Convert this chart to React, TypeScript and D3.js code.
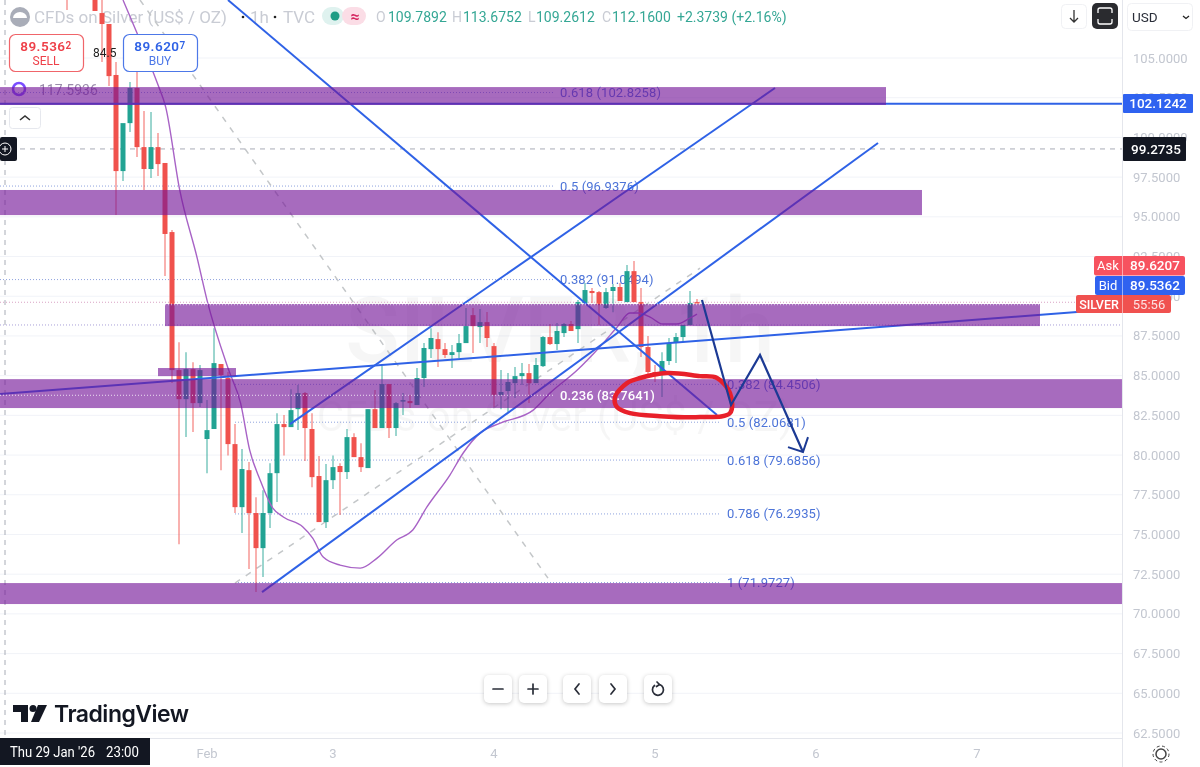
import React from "react";
import * as d3 from "d3";

const W = 1200, H = 767;
const barStart = -4;
const opens = [111,112,112,111,110,107.83,107.14,103.93,97.88,100.90,103.11,99.39,98.01,99.39,98.39,94.04,85.35,83.52,85.41,83.27,81.01,81.64,85.73,84.85,80.69,76.72,79.05,76.35,74.14,76.35,78.86,81.95,81.76,82.89,83.90,81.64,78.68,75.78,78.42,79.31,78.93,81.13,79.87,79.18,82.89,81.70,84.47,81.70,83.40,83.40,83.15,84.85,86.67,87.30,86.67,86.30,86.48,87.05,88.81,88.06,88.37,86.86,83.78,84.03,84.53,84.97,85.16,84.53,85.60,87.43,86.99,87.68,88.25,87.93,89.57,90.33,90.26,89.26,90.33,90.58,89.63,91.58,89.63,86.80,85.23,85.04,85.92,87.11,87.43,88.19,89.63];
const highs = [112,113,113,112,110,110,107.14,104.75,97.88,103.49,104.12,101.66,101.60,100.28,98.39,94.17,87.11,86.48,85.85,85.67,83.46,87.99,85.73,85.23,81.95,80.38,79.56,77.35,77.79,79.49,82.64,82.52,84.15,84.41,83.97,82.64,79.94,79.43,79.98,79.49,81.64,81.38,80.75,82.89,84.09,85.60,84.47,83.34,83.90,83.78,85.48,87.05,87.99,87.74,87.05,86.93,87.62,89.26,89.26,89.19,89.00,87.05,85.35,85.16,85.54,85.79,85.73,86.11,87.49,88.25,88.31,88.31,88.44,89.76,90.83,90.52,90.33,90.52,90.77,90.83,91.96,92.22,90.52,87.49,85.67,86.48,87.37,87.68,88.19,90.33,89.82];
const lows = [108.02,111,111,110,107.96,104.75,103.23,95.11,97.25,100.34,98.76,96.69,97.44,97.57,91.27,84.53,74.39,81.13,81.45,83.02,78.86,81.64,79.05,79.98,76.35,75.09,72.82,71.37,72.32,75.40,77.04,79.98,81.76,81.57,79.62,77.98,75.78,75.40,77.86,76.22,78.49,79.87,78.93,79.18,81.70,81.70,81.07,81.20,82.52,82.96,83.15,84.28,86.11,85.54,86.11,85.48,86.11,87.05,86.42,87.05,86.80,83.02,82.89,82.71,83.59,84.41,83.27,84.53,85.54,86.93,86.61,87.43,87.81,87.05,89.57,89.57,88.19,89.19,88.99,89.70,89.63,89.63,86.17,84.97,84.60,83.65,85.67,85.79,87.11,88.19,89.57];
const closes = [110,111,111,110,107.96,107.14,103.86,97.88,100.90,103.11,99.39,98.01,99.39,98.32,93.92,85.35,83.52,85.41,83.27,85.35,81.57,85.79,85.04,80.69,76.72,79.12,76.35,74.14,76.35,78.86,81.95,81.76,82.83,83.90,81.70,78.61,75.78,78.42,79.24,78.93,81.13,79.87,79.24,82.89,81.70,84.47,81.70,83.27,83.46,83.27,84.85,86.74,87.37,86.67,86.30,86.48,87.05,88.12,88.12,88.37,87.37,83.78,83.97,84.60,84.97,85.16,84.53,85.67,87.43,86.99,87.81,88.25,87.81,89.63,90.39,90.20,89.44,90.26,90.58,89.70,91.58,89.63,86.80,85.23,84.97,85.92,87.05,87.43,88.19,89.57,89.57];

const maBars = [4,6,8.9,10.1,12.1,14.6,16,19.1,20.8,22.1,23.6,25.4,26.9,29.7,31.1,32.6,35,37.9,40.3,43.1,45.4,47.4,50.7,52.6,55,57.9,62.6,65,68.9,72.1,74.6,76.4,77.6,79.3,81.1,83.1,85,86];
const maVals = [108.65,106.57,103.42,101.91,96.69,92.4,89.76,85.35,83.27,80.31,78.42,76.66,76.1,75.47,74.77,73.58,73.07,72.88,73.51,74.65,75.28,76.72,78.74,80.13,81.38,82.01,82.83,83.9,85.35,86.8,88.06,88.94,88.94,88.69,88.25,88.25,88.63,88.88];

const priceTicks = [105,102.5,100,97.5,95,92.5,90,87.5,85,82.5,80,77.5,75,72.5,70,67.5,65,62.5];
const dayLabels = ["Feb","3","4","5","6","7"];
const dayBars = [16,34,57,80,103,126];

const leftEdge = -13.57, paneEnd = 146.71;
const bandFrom = [leftEdge,leftEdge,10,9,leftEdge,leftEdge];
const bandTo = [113,118.14,135,20.14,paneEnd,paneEnd];
const bandTop = [103.17,96.69,89.51,85.48,84.78,71.94];
const bandBottom = [102.04,95.11,88.12,84.97,82.96,70.62];

const fibLeftText = ["0.618 (102.8258)","0.5 (96.9376)","0.382 (91.0494)"];
const fibLeftPrice = [102.8258,96.9376,91.0494];
const fibRightText = ["0.382 (84.4506)","0.5 (82.0681)","0.618 (79.6856)","0.786 (76.2935)","1 (71.9727)"];
const fibRightPrice = [84.4506,82.0681,79.6856,76.2935,71.9727];

const trendLines: number[][] = [
  [19,108.65,88.86,82.52],
  [27.86,81.95,97.14,103.11],
  [23.86,71.37,111.86,99.65],
  [-13.57,83.84,142.14,89.07],
  [-13.57,102.1242,paneEnd,102.1242],
];
const dashedLines: number[][] = [
  [6.43,108.65,64.71,72.25],
  [20,71.94,86.43,91.77],
];
const arrowBars = [86.71,90.86,95,101.14];
const arrowVals = [89.76,83.15,86.3,80.19];
const headBars = [99,101.14,101.86];
const headVals = [80.5,80.19,81.13];
const loopBars = [81.71,86.43,88.86,90.71,90.71,86.43,80.71,76.43,74.57,74.29,76,77.86];
const loopVals = [85.16,84.97,84.85,83.9,82.64,82.39,82.45,82.64,83.02,83.65,84.53,84.85];

const x = d3.scaleLinear().domain([0, 100]).range([95, 795]);
const y = d3.scaleLinear().domain([105, 62.5]).range([58, 733]);
const FONT = "Roboto, 'Noto Sans', sans-serif";
const GREEN = "#22a393", RED = "#f0524d", BLUE = "#2f62e6";
const BAND = "rgba(118,24,153,0.64)";
const TEAL = "#35a795", FADED = "#c9ccd4";

const btn = (cx: number, cy: number, key: string, glyph: React.ReactNode) => (
  <g key={key}>
    <rect x={cx-14} y={cy-14} width={28} height={28} rx={5} fill="#fff" style={{filter:"drop-shadow(0 1px 2px rgba(0,0,0,0.22))"}} />
    <g transform={`translate(${cx},${cy})`} fill="none" stroke="#2a2e39" strokeWidth={1.7} strokeLinecap="round">{glyph}</g>
  </g>
);

export default function App() {
  const lineGen = d3.line<[number,number]>().x(d => x(d[0])).y(d => y(d[1]));
  const ma = d3.line<number>().x((_, i) => x(maBars[i])).y(d => y(d)).curve(d3.curveMonotoneX)(maVals) ?? "";
  const loop = d3.line<number>().x((_, i) => x(loopBars[i])).y(d => y(d)).curve(d3.curveCatmullRomClosed)(loopVals) ?? "";
  const arrow = lineGen(arrowBars.map((b,i) => [b, arrowVals[i]] as [number,number])) ?? "";
  const head = lineGen(headBars.map((b,i) => [b, headVals[i]] as [number,number])) ?? "";
  const paneR = x(paneEnd);
  return (
    <svg width={W} height={H} viewBox={`0 0 ${W} ${H}`} style={{position:"fixed",left:0,top:0,background:"#fff",filter:"blur(0.4px)"}} fontFamily={FONT}>
      <rect width={W} height={H} fill="#fff" />
      {/* grid */}
      {priceTicks.map(p => <line key={p} x1={0} x2={paneR} y1={y(p)} y2={y(p)} stroke="#f1f3f8" strokeWidth={1} />)}
      {/* watermark */}
      <text x={560} y={362} textAnchor="middle" fontSize={90} fontWeight={500} fill="#000" fillOpacity={0.035}>SILVER, 1h</text>
      <text x={555} y={431} textAnchor="middle" fontSize={42} fill="#000" fillOpacity={0.035}>CFDs on Silver (US$ / OZ)</text>

      {/* header */}
      <circle cx={20} cy={17} r={10} fill="#a9adb8" />
      <path d="M13 18 a7 6 0 0 1 14 0 z" fill="#fff" />
      <text x={34} y={23} fontSize={17} fill={FADED}>CFDs on Silver (US$ / OZ)</text>
      <circle cx={243} cy={17} r={1.3} fill="#222" />
      <text x={250} y={23} fontSize={17} fill={FADED}>1h</text>
      <circle cx={275} cy={17} r={1.3} fill="#222" />
      <text x={283} y={23} fontSize={17} fill={FADED}>TVC</text>
      <rect x={322} y={7} width={22} height={18} rx={9} fill="#dff2ef" />
      <rect x={342} y={7} width={24} height={18} rx={9} fill="#fbdde6" />
      <circle cx={335} cy={16} r={4.5} fill="#1f9d85" />
      <text x={355} y={22} textAnchor="middle" fontSize={16} fontWeight={700} fill="#d4245f">≈</text>
      <text x={376} y={21.5} fontSize={14} fill={FADED}>O</text>
      <text x={388} y={21.5} fontSize={14} fill={TEAL}>109.7892</text>
      <text x={452} y={21.5} fontSize={14} fill={FADED}>H</text>
      <text x={463} y={21.5} fontSize={14} fill={TEAL}>113.6752</text>
      <text x={528} y={21.5} fontSize={14} fill={FADED}>L</text>
      <text x={536} y={21.5} fontSize={14} fill={TEAL}>109.2612</text>
      <text x={602} y={21.5} fontSize={14} fill={FADED}>C</text>
      <text x={612} y={21.5} fontSize={14} fill={TEAL}>112.1600</text>
      <text x={677} y={21.5} fontSize={14} fill={TEAL}>+2.3739 (+2.16%)</text>
      <circle cx={19} cy={89} r={6} fill="none" stroke="#7a4dff" strokeWidth={2.5} />
      <text x={39} y={95} fontSize={14} fill="#9a8cab">117.5936</text>

      {/* fib lines and labels, below the zones */}
      {fibLeftPrice.map(p => <line key={p} x1={x(leftEdge)} x2={x(65.7)} y1={y(p)} y2={y(p)} stroke="#8fa3de" strokeDasharray="1 2" />)}
      {fibRightPrice.map(p => <line key={p} x1={x(20)} x2={x(89.4)} y1={y(p)} y2={y(p)} stroke="#8fa3de" strokeDasharray="1 2" />)}
      <line x1={x(leftEdge)} x2={paneR} y1={y(89.6207)} y2={y(89.6207)} stroke="#d9a3c4" strokeDasharray="1 2" />
      <line x1={x(leftEdge)} x2={paneR} y1={y(88.19)} y2={y(88.19)} stroke="#a99fd8" strokeDasharray="1 2" />
      {fibLeftPrice.map((p,i) => <text key={p} x={x(66.43)} y={y(p)+4.5} fontSize={13} letterSpacing={0.1} fill="#4d74d8">{fibLeftText[i]}</text>)}
      {fibRightPrice.map((p,i) => <text key={p} x={x(90.29)} y={y(p)+4.5} fontSize={13} letterSpacing={0.1} fill="#4d74d8">{fibRightText[i]}</text>)}

      {/* dashed trend lines */}
      {dashedLines.map((l,i) => <line key={i} x1={x(l[0])} y1={y(l[1])} x2={x(l[2])} y2={y(l[3])} stroke="#c4c7c9" strokeWidth={1.5} strokeDasharray="6 7" />)}

      {/* crosshair */}
      <line x1={5} x2={5} y1={0} y2={738} stroke="#a8acb6" strokeDasharray="5 5" />
      <line x1={0} x2={paneR} y1={y(99.2735)} y2={y(99.2735)} stroke="#a8acb6" strokeDasharray="5 5" />

      {/* candles */}
      {opens.map((o,i) => {
        const cx = Math.round(x(i + barStart)) ;
        const c = closes[i]; const up = c >= o; const col = up ? GREEN : RED;
        const top = y(Math.max(o,c)), bot = y(Math.min(o,c));
        return (
          <g key={i}>
            <line x1={cx} x2={cx} y1={y(highs[i])} y2={y(lows[i])} stroke={col} strokeOpacity={0.75} strokeWidth={1.2} />
            <rect x={cx-2.5} y={top} width={5} height={Math.max(bot-top,1.5)} fill={col} />
          </g>
        );
      })}

      {/* moving average */}
      <path d={ma} fill="none" stroke="#a863c6" strokeWidth={1.4} />

      {/* trend lines */}
      {trendLines.map((l,i) => <line key={i} x1={x(l[0])} y1={y(l[1])} x2={x(l[2])} y2={y(l[3])} stroke={BLUE} strokeWidth={2} />)}

      {/* zones */}
      {bandTop.map((t,i) => <rect key={i} x={x(bandFrom[i])} y={y(t)} width={x(bandTo[i])-x(bandFrom[i])} height={y(bandBottom[i])-y(t)} fill={BAND} />)}
      <line x1={0} x2={x(65.7)} y1={y(83.7641)} y2={y(83.7641)} stroke="#fff" strokeOpacity={0.8} strokeDasharray="1 2" />
      <line x1={x(10)} x2={x(135)} y1={y(89.5)} y2={y(89.5)} stroke="#fff" strokeOpacity={0.55} strokeDasharray="1 2" strokeWidth={2} />
      <text x={x(66.43)} y={y(83.7641)+4.5} fontSize={13} letterSpacing={0.1} fill="#fff" fontWeight={500}>0.236 (83.7641)</text>

      {/* hand drawing */}
      <path d={loop} fill="none" stroke="#e8202a" strokeWidth={4.5} />
      <path d={arrow} fill="none" stroke="#1c3a94" strokeWidth={2.2} />
      <path d={head} fill="none" stroke="#1c3a94" strokeWidth={2} />

      {/* order boxes */}
      <rect x={9.5} y={34.5} width={74} height={37} rx={6} fill="#fff" stroke="#f0656a" strokeWidth={1.2} />
      <text x={46} y={51} textAnchor="middle" fontSize={13.5} fontWeight={600} fill="#ee4049" letterSpacing={0.5}>89.536<tspan fontSize={10} dy={-2}>2</tspan></text>
      <text x={46} y={65} textAnchor="middle" fontSize={12} fill="#ee4049">SELL</text>
      <text x={93} y={57} fontSize={12} fill="#222">84.5</text>
      <rect x={123.5} y={34.5} width={74} height={37} rx={6} fill="#fff" stroke="#4d78e8" strokeWidth={1.2} />
      <text x={160} y={51} textAnchor="middle" fontSize={13.5} fontWeight={600} fill="#2f62e6" letterSpacing={0.5}>89.620<tspan fontSize={10} dy={-2}>7</tspan></text>
      <text x={160} y={65} textAnchor="middle" fontSize={12} fill="#4d78e8">BUY</text>
      <rect x={9.5} y={107.5} width={31} height={21} rx={3} fill="#fff" stroke="#e6e8ee" />
      <path d="M20 120 l5 -4 l5 4" fill="none" stroke="#333" strokeWidth={1.6} />
      <rect x={0} y={137} width={17} height={24} rx={2} fill="#131722" />
      <circle cx={5} cy={149} r={6} fill="none" stroke="#fff" strokeWidth={1} />
      <path d="M2 149 h6 M5 146 v6" stroke="#fff" strokeWidth={1} />

      {/* zoom controls */}
      {btn(498,689,"minus",<path d="M-5 0 h10" />)}
      {btn(533,689,"plus",<path d="M-5 0 h10 M0 -5 v10" />)}
      {btn(577,689,"left",<path d="M2 -5 l-4 5 l4 5" />)}
      {btn(613,689,"right",<path d="M-2 -5 l4 5 l-4 5" />)}
      {btn(658,689,"reset",<><path d="M-3.5 -3.5 a5.5 5.5 0 1 0 5 -1" /><path d="M-1 -7 l2.5 2.5 l-3 2" /></>)}

      {/* logo */}
      <path d="M13 705 h15 v17 h-7 v-10 h-8 z" fill="#131722" />
      <circle cx={33} cy={708.5} r={3.5} fill="#131722" />
      <path d="M38 705 h9 l-8 17 h-8 z" fill="#131722" />
      <text x={54} y={722} fontSize={23} fontFamily="Inter, Roboto, sans-serif" fontWeight={600} letterSpacing={-0.5} fill="#131722">TradingView</text>

      {/* price axis */}
      <rect x={1122} y={0} width={78} height={H} fill="#fff" />
      <line x1={1122.5} x2={1122.5} y1={0} y2={H} stroke="#e4e6ec" />
      {priceTicks.map(p => <text key={p} x={1133} y={y(p)+4.5} fontSize={13} fill="#c3c7d0">{p.toFixed(4)}</text>)}

      <rect x={1123} y={94} width={70} height={19} fill="#2f62f0" rx={1} />
      <text x={1158} y={108} textAnchor="middle" fontSize={13.5} fontWeight={500} fill="#fff">102.1242</text>
      <rect x={1123} y={137} width={63} height={24} fill="#131722" rx={1} />
      <text x={1156} y={154} textAnchor="middle" fontSize={13.5} fontWeight={500} fill="#fff">99.2735</text>

      <rect x={1094} y={256} width={91} height={19.5} fill="#f7525f" rx={2} />
      <text x={1108} y={270} textAnchor="middle" fontSize={13} fill="#fff">Ask</text>
      <text x={1155} y={270} textAnchor="middle" fontSize={13.5} fontWeight={500} fill="#fff">89.6207</text>
      <rect x={1095} y={276} width={90} height={19} fill="#2f62f0" rx={2} />
      <text x={1108} y={290} textAnchor="middle" fontSize={13} fill="#fff">Bid</text>
      <text x={1155} y={290} textAnchor="middle" fontSize={13.5} fontWeight={500} fill="#fff">89.5362</text>
      <rect x={1076} y={295} width={95} height={18} fill="#f0514f" rx={2} />
      <text x={1099} y={308.5} textAnchor="middle" fontSize={12.5} fontWeight={500} fill="#fff">SILVER</text>
      <text x={1149} y={308.5} textAnchor="middle" fontSize={13} fill="#fde3e3">55:56</text>
      <line x1={1122.5} x2={1122.5} y1={256} y2={313} stroke="#fff" strokeOpacity={0.5} />

      {/* top-right buttons */}
      <rect x={1061.5} y={4.5} width={25} height={24} rx={4} fill="#fff" stroke="#f0f1f4" />
      <path d="M1074 10 v12 M1070 18 l4 4 l4 -4" fill="none" stroke="#333" strokeWidth={1.3} />
      <rect x={1092} y={3} width={26} height={26} rx={5} fill="#2a2b2f" />
      <path d="M1098 13 v-3 q0 -2 2 -2 h10 q2 0 2 2 v3 M1098 19 v3 q0 2 2 2 h10 q2 0 2 -2 v-3" fill="none" stroke="#fff" strokeWidth={1.3} />
      <rect x={1127.5} y={3.5} width={65} height={27} rx={4} fill="#fff" stroke="#f0f1f4" />
      <text x={1132} y={22} fontSize={13.5} fill="#2a2e39">USD</text>
      <path d="M1183 16 l3 2.5 l3 -2.5" fill="none" stroke="#222" strokeWidth={1.3} />

      {/* time axis */}
      <rect x={0} y={738} width={1122} height={29} fill="#fff" />
      <line x1={0} x2={1122} y1={738.5} y2={738.5} stroke="#e4e6ec" />
      {dayLabels.map((d,i) => <text key={d} x={x(dayBars[i])} y={758} textAnchor="middle" fontSize={13} fill="#c3c7d0">{d}</text>)}
      <rect x={0} y={738} width={150} height={27} fill="#131722" />
      <text x={10} y={757} fontSize={14} fill="#fff" textLength={85} lengthAdjust="spacingAndGlyphs">Thu 29 Jan '26</text>
      <text x={106} y={757} fontSize={14} fill="#fff" textLength={33} lengthAdjust="spacingAndGlyphs">23:00</text>
      <circle cx={1161} cy={754} r={5} fill="none" stroke="#444" strokeWidth={1.5} />
      <circle cx={1161} cy={754} r={8} fill="none" stroke="#444" strokeWidth={1} strokeDasharray="3 2.5" />
    </svg>
  );
}
